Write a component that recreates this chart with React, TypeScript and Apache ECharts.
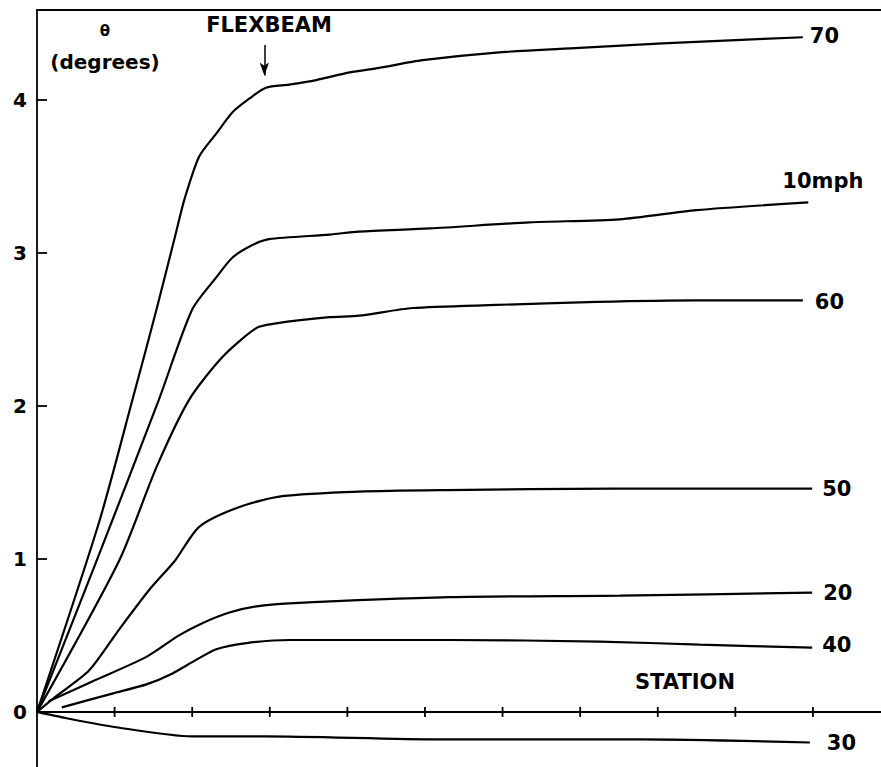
import React, { useEffect, useRef } from "react";
import * as echarts from "echarts";

// Station tick positions and theta tick labels
const stations = [1, 2, 3, 4, 5, 6, 7, 8, 9, 10];
const yLabelValues = [0, 1, 2, 3, 4];
const yTickValues = [1, 2, 3, 4];

// Curves: [station, theta (degrees)]
const mph70 = [
  [0, 0], [0.8, 1.24], [1.23, 2.04], [1.54, 2.63], [1.79, 3.13], [1.9, 3.35],
  [2.09, 3.63], [2.31, 3.78], [2.52, 3.92], [2.74, 4.01], [2.95, 4.08], [3.25, 4.1],
  [3.6, 4.13], [4.03, 4.18], [4.41, 4.21], [4.97, 4.26], [5.92, 4.31], [6.99, 4.34],
  [8.06, 4.37], [8.93, 4.39], [9.87, 4.41],
];
const mph10 = [
  [0, 0], [0.77, 0.99], [1.57, 2.04], [2.0, 2.63], [2.31, 2.84], [2.52, 2.97],
  [2.77, 3.05], [2.99, 3.09], [3.77, 3.12], [4.15, 3.14], [5.06, 3.16], [6.35, 3.2],
  [7.51, 3.22], [8.5, 3.28], [9.94, 3.33],
];
const mph60 = [
  [0, 0], [1.06, 0.99], [1.54, 1.6], [1.96, 2.04], [2.39, 2.32], [2.83, 2.51],
  [3.08, 2.54], [3.77, 2.58], [4.15, 2.59], [4.84, 2.64], [5.92, 2.66], [7.21, 2.68],
  [8.5, 2.69], [9.87, 2.69],
];
const mph50 = [
  [0, 0], [0.24, 0.1], [0.67, 0.27], [1.06, 0.54], [1.45, 0.8], [1.78, 0.99],
  [2.09, 1.21], [2.61, 1.34], [3.16, 1.41], [4.15, 1.44], [5.28, 1.45], [7.42, 1.46],
  [9.99, 1.46],
];
const mph20 = [
  [0.15, 0.07], [0.76, 0.21], [1.41, 0.36], [1.83, 0.5], [2.13, 0.58], [2.48, 0.65],
  [2.83, 0.69], [3.25, 0.71], [5.32, 0.75], [7.51, 0.76], [9.99, 0.78],
];
const mph40 = [
  [0.32, 0.03], [0.97, 0.12], [1.41, 0.18], [1.74, 0.25], [2.05, 0.34], [2.31, 0.41],
  [2.7, 0.45], [3.25, 0.47], [5.32, 0.47], [7.25, 0.46], [8.54, 0.44], [9.99, 0.42],
];
const mph30 = [
  [0, 0], [0.37, -0.04], [1.02, -0.1], [2.0, -0.16], [2.95, -0.16], [5.19, -0.18],
  [7.77, -0.18], [9.96, -0.2],
];

// Flexbeam marker arrow: station, from theta, to theta
const flexbeamStation = 2.93;
const flexbeamFrom = 4.36;
const flexbeamTo = 4.16;

const FONT = "'DejaVu Sans', sans-serif";

const curves = [
  { name: "70", data: mph70, offset: [2, -1] },
  { name: "10mph", data: mph10, offset: [-31, -21] },
  { name: "60", data: mph60, offset: [7, 2] },
  { name: "50", data: mph50, offset: [5, 0] },
  { name: "20", data: mph20, offset: [6, 0] },
  { name: "40", data: mph40, offset: [5, -3] },
  { name: "30", data: mph30, offset: [12, 0] },
];

export default function App() {
  const ref = useRef<HTMLDivElement>(null);

  useEffect(() => {
    if (!ref.current) return;
    const chart = echarts.init(ref.current, null, { renderer: "svg" });

    const xMin = 0;
    const xMax = 10.877;

    const series: any[] = curves.map((c, i) => {
      const s: any = {
        type: "line",
        name: c.name,
        data: c.data,
        smooth: 0.25,
        showSymbol: false,
        symbol: "none",
        lineStyle: { color: "#000", width: 2.2 },
        endLabel: {
          show: true,
          formatter: c.name,
          color: "#000",
          fontSize: 21,
          fontWeight: "bold",
          fontFamily: FONT,
          distance: 5,
          offset: c.offset,
        },
        silent: true,
        z: 3,
      };
      if (i === 0) {
        s.markLine = {
          silent: true,
          symbol: ["none", "arrow"],
          symbolSize: [7, 13],
          label: { show: false },
          lineStyle: { color: "#000", width: 1.5, type: "solid" },
          data: [
            [
              { coord: [flexbeamStation, flexbeamFrom] },
              { coord: [flexbeamStation, flexbeamTo] },
            ],
          ],
        };
      }
      return s;
    });

    // crossing tick marks on the station axis
    series.push({
      type: "custom",
      silent: true,
      data: stations.map((s) => [s, 0]),
      encode: { x: 0, y: 1 },
      renderItem: (params: any, api: any) => {
        const p = api.coord([api.value(0), api.value(1)]);
        return {
          type: "line",
          shape: { x1: p[0], y1: p[1] - 5, x2: p[0], y2: p[1] + 5 },
          style: { stroke: "#000", lineWidth: 1.8 },
        };
      },
      z: 4,
    });

    chart.setOption({
      animation: false,
      backgroundColor: "#fff",
      grid: { left: 37, right: 0, top: 10, bottom: 0, containLabel: false },
      xAxis: [
        {
          type: "value",
          min: xMin,
          max: xMax,
          position: "bottom",
          axisLine: {
            show: true,
            onZero: true,
            lineStyle: { color: "#000", width: 1.8 },
          },
          axisTick: { show: false },
          axisLabel: { show: false },
          splitLine: { show: false },
        },
        {
          type: "value",
          min: xMin,
          max: xMax,
          position: "top",
          axisLine: {
            show: true,
            onZero: false,
            lineStyle: { color: "#000", width: 1.8 },
          },
          axisTick: { show: false },
          axisLabel: { show: false },
          splitLine: { show: false },
        },
      ],
      yAxis: {
        type: "value",
        min: -0.36,
        max: 4.588,
        axisLine: { show: true, onZero: false, lineStyle: { color: "#000", width: 1.8 } },
        axisTick: {
          show: true,
          inside: true,
          length: 10,
          customValues: yTickValues,
          lineStyle: { color: "#000", width: 1.8 },
        },
        axisLabel: {
          show: true,
          customValues: yLabelValues,
          color: "#000",
          fontSize: 20,
          fontWeight: "bold",
          fontFamily: FONT,
          margin: 10,
        },
        splitLine: { show: false },
      },
      graphic: [
        {
          type: "text",
          x: 105,
          y: 31,
          style: {
            text: "θ",
            fill: "#000",
            font: `bold 15px ${FONT}`,
            textAlign: "center",
            textVerticalAlign: "middle",
          },
        },
        {
          type: "text",
          x: 105,
          y: 62,
          style: {
            text: "(degrees)",
            fill: "#000",
            font: `bold 20px ${FONT}`,
            textAlign: "center",
            textVerticalAlign: "middle",
          },
        },
        {
          type: "text",
          x: 269,
          y: 25,
          style: {
            text: "FLEXBEAM",
            fill: "#000",
            font: `bold 21px ${FONT}`,
            textAlign: "center",
            textVerticalAlign: "middle",
          },
        },
        {
          type: "text",
          x: 685,
          y: 682,
          style: {
            text: "STATION",
            fill: "#000",
            font: `bold 21px ${FONT}`,
            textAlign: "center",
            textVerticalAlign: "middle",
          },
        },
      ],
      series,
    });

    return () => chart.dispose();
  }, []);

  return (
    <div
      ref={ref}
      style={{ position: "fixed", left: 0, top: 0, width: 881, height: 767, background: "#fff" }}
    />
  );
}
